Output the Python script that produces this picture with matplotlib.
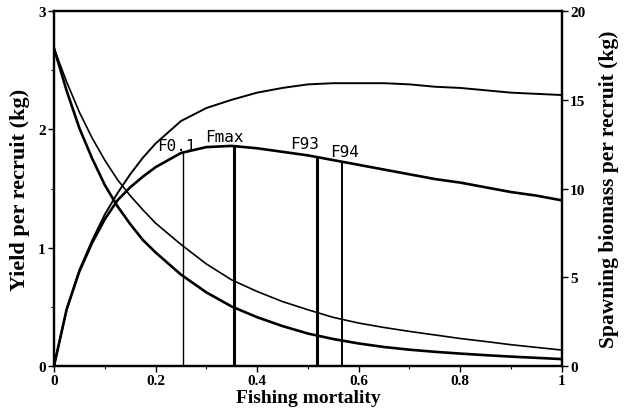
import numpy as np
import matplotlib
import matplotlib.pyplot as plt
from matplotlib.ticker import MultipleLocator

matplotlib.use('Agg')

# Fishing mortality grid (finer where the curves bend most)
F = [0.000, 0.025, 0.050, 0.075, 0.100, 0.125, 0.150, 0.175, 0.200,
     0.25, 0.30, 0.35, 0.40, 0.45, 0.50, 0.55, 0.60, 0.65, 0.70,
     0.75, 0.80, 0.85, 0.90, 0.95, 1.00]

# Yield per recruit (kg), left axis
ypr_high = [0.00, 0.48, 0.81, 1.06, 1.28, 1.46, 1.62, 1.76, 1.88,
            2.07, 2.18, 2.25, 2.31, 2.35, 2.38, 2.39, 2.39, 2.39, 2.38,
            2.36, 2.35, 2.33, 2.31, 2.30, 2.29]
ypr_low = [0.00, 0.48, 0.80, 1.04, 1.24, 1.40, 1.51, 1.60, 1.68,
           1.80, 1.85, 1.86, 1.84, 1.81, 1.78, 1.74, 1.70, 1.66, 1.62,
           1.58, 1.55, 1.51, 1.47, 1.44, 1.40]

# Spawning biomass per recruit (kg), right axis
sbr_high = [17.9, 16.0, 14.3, 12.85, 11.6, 10.5, 9.6, 8.8, 8.05,
            6.85, 5.75, 4.85, 4.2, 3.63, 3.17, 2.74, 2.42, 2.17, 1.95,
            1.75, 1.55, 1.38, 1.20, 1.05, 0.90]
sbr_low = [17.9, 15.5, 13.4, 11.7, 10.2, 9.0, 8.0, 7.1, 6.4,
           5.15, 4.15, 3.35, 2.75, 2.25, 1.83, 1.52, 1.27, 1.07, 0.92,
           0.80, 0.70, 0.61, 0.53, 0.46, 0.39]

# Reference points
ref_names = ['F0.1', 'Fmax', 'F93', 'F94']
ref_F = [0.254, 0.354, 0.518, 0.567]
ref_lw = [1.0, 2.2, 2.2, 1.4]
ref_label_pos = [(0.203, 1.86), (0.297, 1.94), (0.465, 1.88), (0.543, 1.81)]

serif = 'Liberation Serif'

fig = plt.figure(figsize=(6.3, 4.14), dpi=100)
ax = fig.add_axes([0.0857, 0.1135, 0.806, 0.8575])
ax2 = ax.twinx()

ax.plot(F, ypr_high, color='black', lw=1.4)
ax.plot(F, ypr_low, color='black', lw=1.9)
ax2.plot(F, sbr_high, color='black', lw=1.2)
ax2.plot(F, sbr_low, color='black', lw=1.9)

# vertical lines up to the lower yield curve
for name, f, lw, (tx, ty) in zip(ref_names, ref_F, ref_lw, ref_label_pos):
    top = np.interp(f, F, ypr_low)
    ax.plot([f, f], [0, top], color='black', lw=lw, solid_capstyle='butt')
    ax.text(tx, ty, name, fontsize=11.5, family='DejaVu Sans Mono',
            ha='left', va='center')

ax.set_xlim(0, 1)
ax.set_ylim(0, 3)
ax2.set_ylim(0, 20)

ax.xaxis.set_major_locator(MultipleLocator(0.2))
ax.xaxis.set_minor_locator(MultipleLocator(0.1))
ax.yaxis.set_major_locator(MultipleLocator(1))
ax.yaxis.set_minor_locator(MultipleLocator(0.5))
ax2.yaxis.set_major_locator(MultipleLocator(5))

ax.set_xticks([0, 0.2, 0.4, 0.6, 0.8, 1.0])
ax.set_xticklabels(['0', '0.2', '0.4', '0.6', '0.8', '1'])

for a in (ax, ax2):
    a.tick_params(which='major', length=4, width=1.0, labelsize=11, pad=2)
    a.tick_params(which='minor', length=2.5, width=0.8)
    for lab in a.get_xticklabels() + a.get_yticklabels():
        lab.set_fontfamily(serif)
        lab.set_fontweight('bold')
    for s in a.spines.values():
        s.set_linewidth(1.6)

ax.set_xlabel('Fishing mortality', fontsize=14, family=serif,
              fontweight='bold', labelpad=1)
ax.set_ylabel('Yield per recruit (kg)', fontsize=16, family=serif,
              fontweight='bold', labelpad=6)
ax2.set_ylabel('Spawning biomass per recruit (kg)', fontsize=15.5,
               family=serif, fontweight='bold', labelpad=10)

fig.savefig('out.png', dpi=100, facecolor='white')
plt.close(fig)
